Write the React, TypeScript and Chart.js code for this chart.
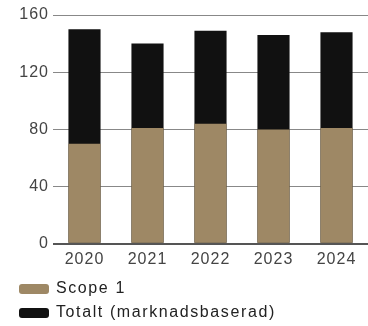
import React, { useEffect, useRef } from "react";
import { Chart, registerables } from "chart.js";

Chart.register(...registerables);

const years = ["2020", "2021", "2022", "2023", "2024"];
const scope1 = [70, 81, 84, 80, 81];
const totalt = [150, 140, 149, 146, 148];
const yTicks = [0, 40, 80, 120, 160];

const TAN = "#9e8865";
const BLACK = "#111111";
const FONT = "'Liberation Sans', Arial, sans-serif";
const TICK_LS = "1px";
const LEGEND_LS = "1.6px";

const spacingPlugin = {
  id: "spacing",
  beforeUpdate(chart: any) { chart.ctx.letterSpacing = TICK_LS; },
  beforeLayout(chart: any) { chart.ctx.letterSpacing = TICK_LS; },
  beforeDraw(chart: any) { chart.ctx.letterSpacing = TICK_LS; },
};

const legendPlugin = {
  id: "customLegend",
  afterDraw(chart: any) {
    const ctx = chart.ctx;
    ctx.save();
    ctx.font = `16px ${FONT}`;
    ctx.letterSpacing = LEGEND_LS;
    ctx.textBaseline = "middle";
    ctx.textAlign = "left";
    const rows = [289, 313];
    chart.data.datasets.forEach((ds: any, i: number) => {
      const y = rows[i];
      ctx.fillStyle = ds.backgroundColor;
      ctx.beginPath();
      ctx.roundRect(19, y - 5, 30, 10, 3);
      ctx.fill();
      ctx.fillStyle = "#222";
      ctx.fillText(ds.label, 56, y);
    });
    ctx.restore();
  },
};

export default function App() {
  const ref = useRef<HTMLCanvasElement | null>(null);
  useEffect(() => {
    if (!ref.current) return;
    const chart = new Chart(ref.current, {
      type: "bar",
      data: {
        labels: years,
        datasets: [
          { label: "Scope 1", data: scope1, backgroundColor: TAN, grouped: false, categoryPercentage: 1, barPercentage: 0.51 } as any,
          { label: "Totalt (marknadsbaserad)", data: totalt, backgroundColor: BLACK, grouped: false, categoryPercentage: 1, barPercentage: 0.51 } as any,
        ],
      },
      options: {
        animation: false,
        responsive: false,
        layout: { padding: { top: 15, left: 0, right: -9, bottom: 51 } },
        plugins: { legend: { display: false }, tooltip: { enabled: false } },
        scales: {
          x: {
            grid: { display: false, drawTicks: false },
            border: { display: false },
            ticks: { color: "#444", font: { family: FONT, size: 16 }, padding: 6 },
          },
          y: {
            min: 0,
            max: 160,
            afterBuildTicks: (s: any) => { s.ticks = yTicks.map((v) => ({ value: v })); },
            afterFit: (s: any) => { s.width = 53; },
            grid: {
              drawTicks: false,
              color: (c: any) => (c.tick && c.tick.value === 0 ? "#555" : "#888"),
              lineWidth: (c: any) => (c.tick && c.tick.value === 0 ? 2 : 1),
            },
            border: { display: false },
            ticks: { color: "#444", font: { family: FONT, size: 16 }, padding: 4 },
          },
        },
      },
      plugins: [spacingPlugin, legendPlugin],
    });
    return () => chart.destroy();
  }, []);
  return (
    <div style={{ position: "absolute", left: 0, top: 0, width: 368, height: 326, overflow: "hidden", background: "#fff" }}>
      <canvas ref={ref} width={368} height={326} style={{ display: "block" }} />
    </div>
  );
}
